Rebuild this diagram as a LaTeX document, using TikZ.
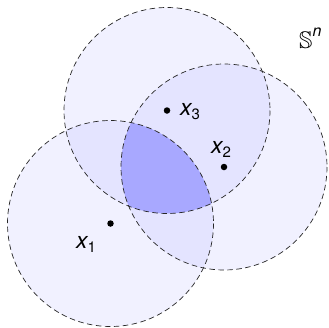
\documentclass[tikz,border=0pt]{standalone}
\usepackage{amssymb}
\usepackage{fontspec}
\setmainfont{TeX Gyre Heros}
\begin{document}
\begin{tikzpicture}[x=1pt,y=-1pt,
  disk/.style={fill=blue,fill opacity=0.055},
  rim/.style={draw=black!85,dashed,dash pattern=on 5.5pt off 3.5pt,line width=0.7pt},
  pt/.style={circle,fill=black,inner sep=0pt,minimum size=6.5pt},
  lab/.style={inner sep=0pt,font=\fontsize{23}{27}\selectfont\itshape}]
\useasboundingbox (0,0) rectangle (329,327);
\def\R{103}
\coordinate (c1) at (110.5,223.5);
\coordinate (c2) at (224,167);
\coordinate (c3) at (167,110.5);
\fill[disk] (c1) circle (\R);
\fill[disk] (c2) circle (\R);
\fill[disk] (c3) circle (\R);
\begin{scope}
  \clip (c1) circle (\R);
  \clip (c2) circle (\R);
  \fill[blue,fill opacity=0.22] (c3) circle (\R);
\end{scope}
\draw[rim] (c1) circle (\R);
\draw[rim] (c2) circle (\R);
\draw[rim] (c3) circle (\R);
\node[pt] (p1) at (c1) {};
\node[pt] (p2) at (c2) {};
\node[pt] (p3) at (c3) {};
\node[lab,anchor=base west] (l3) at (180,115) {x\raisebox{-0.2em}{\fontsize{15}{18}\selectfont\upshape 3}};
\node[lab,anchor=base west] (l2) at (211,153) {x\raisebox{-0.2em}{\fontsize{15}{18}\selectfont\upshape 2}};
\node[lab,anchor=base west] (l1) at (76,248) {x\raisebox{-0.2em}{\fontsize{15}{18}\selectfont\upshape 1}};
\node[lab,anchor=base west,font=\fontsize{24}{28}\selectfont] (sn) at (299,48) {$\mathbb{S}$\raisebox{0.5em}{\fontsize{16}{19}\selectfont\itshape n}};
\end{tikzpicture}
\end{document}
